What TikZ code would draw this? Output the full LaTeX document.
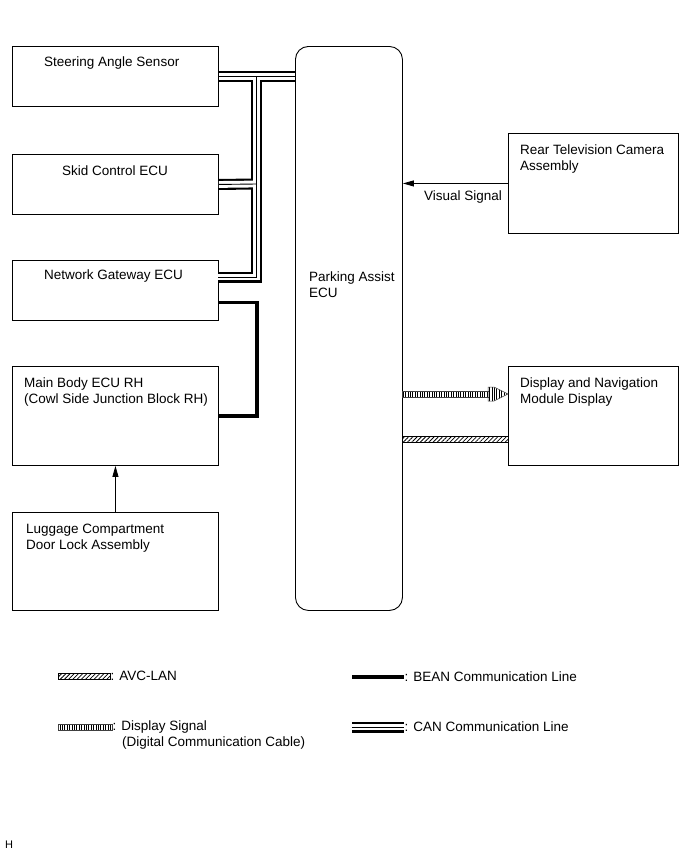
\documentclass[tikz,border=0pt]{standalone}
\usepackage{fontspec}
\setmainfont{Liberation Sans}
\usetikzlibrary{arrows.meta,patterns.meta,calc}
\begin{document}
\begin{tikzpicture}[x=1pt,y=-1pt,
  box/.style={draw=black,line width=0.9pt,anchor=north west,inner sep=0pt},
  lbl/.style={anchor=west,inner sep=0pt,align=left,font=\fontsize{13.5pt}{16pt}\selectfont},
  sig/.style={draw=black,line width=0.8pt,-{Triangle[length=11pt,width=6pt]}},
  bean/.style={draw=black,line width=3.3pt,line join=miter},
  canA/.style={draw=black,line width=11pt,line join=miter},
  canB/.style={draw=white,line width=6.8pt,line join=miter},
  canC/.style={draw=black,line width=0.9pt,line join=miter},
  dsband/.style={pattern={Lines[angle=90,distance=2.4pt,line width=1pt]},draw=black!75,line width=0.5pt},
  avcband/.style={pattern={Lines[angle=45,distance=3pt,line width=0.8pt]},draw=black,line width=0.5pt}
]
\useasboundingbox (0,0) rectangle (690,854);
% boxes
\node[box,minimum width=206pt,minimum height=60pt] (sas) at (12,46) {};
\node[box,minimum width=206pt,minimum height=60pt] (skid) at (12,154) {};
\node[box,minimum width=206pt,minimum height=60pt] (ngw) at (12,260) {};
\node[box,minimum width=206pt,minimum height=99pt] (mb) at (12,366) {};
\node[box,minimum width=206pt,minimum height=98pt] (lug) at (12,512) {};
\node[box,rounded corners=13pt,minimum width=107pt,minimum height=564pt] (pa) at (295,46) {};
\node[box,minimum width=170pt,minimum height=100pt] (rtv) at (508,133) {};
\node[box,minimum width=170pt,minimum height=99pt] (dnm) at (508,366) {};
% texts
\node[lbl] (tsas) at (44,63) {Steering Angle Sensor};
\node[lbl] (tskid) at (62,171) {Skid Control ECU};
\node[lbl] (tngw) at (44,276) {Network Gateway ECU};
\node[lbl] (tmb) at (24,392) {Main Body ECU RH\\(Cowl Side Junction Block RH)};
\node[lbl] (tlug) at (26,538) {Luggage Compartment\\Door Lock Assembly};
\node[lbl] (tpa) at (309,285) {Parking Assist\\ECU};
\node[lbl] (trtv) at (520,159) {Rear Television Camera\\Assembly};
\node[lbl] (tdnm) at (520,392) {Display and Navigation\\Module Display};
\node[lbl] (tvis) at (424,197) {Visual Signal};
% CAN network
\coordinate (tj) at (256.5,76);
\coordinate (sj) at (256.5,184);
\coordinate (gj) at (256.5,277);
\coordinate (ge) at (218,277);
\foreach \st in {canA,canB,canC}{
  \draw[\st] (sas.east) -- (sas.east -| pa.west);
  \draw[\st] (tj) -- (gj) -- (ge);
  \draw[\st] (skid.east) -- (sj);
}
% BEAN
\draw[bean] ([yshift=-12pt]ngw.east) -- ++(38,0) |- (mb.east);
% signals
\draw[sig] (rtv.west) -- (rtv.west -| pa.east);
\draw[sig] (lug.north) -- (mb.south);
% display signal
\coordinate (ds0) at (402,394);
\coordinate (ds1) at (508,394);
\path[dsband] ($(ds0)+(0,-3)$) rectangle ($(ds1)+(-19,3)$);
\path[dsband] ($(ds1)+(-20,-3)$) -- ($(ds1)+(-20,-7)$) -- ($(ds1)+(-14,-7)$) -- (ds1) -- ($(ds1)+(-14,7)$) -- ($(ds1)+(-20,7)$) -- ($(ds1)+(-20,3)$) -- cycle;
% AVC-LAN
\coordinate (av0) at (402,439);
\coordinate (av1) at (508,439);
\path[avcband] ($(av0)+(0,-3)$) rectangle ($(av1)+(0,3)$);
% legend
\path[avcband] (58,673) rectangle (110,679);
\node[lbl] (lavc) at (110.5,676) {: AVC-LAN};
\draw[bean] (352,677) coordinate (lb0) -- (404,677) coordinate (lb1);
\node[lbl] (lbean) at (404.5,677) {: BEAN Communication Line};
\path[dsband] (58,724) rectangle (112,730);
\node[lbl] (lds) at (112.5,727) {: Display Signal};
\node[lbl] (lds2) at (122,743) {(Digital Communication Cable)};
\coordinate (lc0) at (352,727);
\coordinate (lc1) at (404,727);
\foreach \st in {canA,canB,canC}{ \draw[\st] (lc0) -- (lc1); }
\node[lbl] (lcan) at (404.5,727) {: CAN Communication Line};
\node[lbl,font=\fontsize{11pt}{13pt}\selectfont] (th) at (5,845) {H};
\end{tikzpicture}
\end{document}
